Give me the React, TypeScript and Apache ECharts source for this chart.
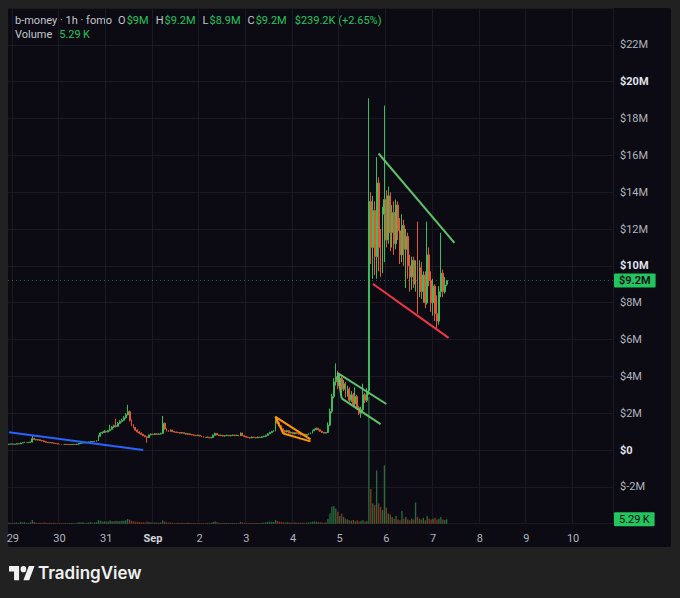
import React, { useEffect, useRef } from "react";
import * as echarts from "echarts";

// ---------- categories: hourly candles starting Aug 28 22:00 ----------
const START_UTC = Date.UTC(2024, 7, 28, 22);
const HOUR_COUNT = 311;
const MONTHS = ["Jan", "Feb", "Mar", "Apr", "May", "Jun", "Jul", "Aug", "Sep", "Oct", "Nov", "Dec"];
const hourLabels: string[] = [];
for (let i = 0; i < HOUR_COUNT; i++) {
  const d = new Date(START_UTC + i * 3600000);
  hourLabels.push(`${d.getUTCMonth() + 1}-${d.getUTCDate()} ${d.getUTCHours()}`);
}

// ---------- candles [open, close, low, high] in $M ----------
const aug28 = [
  [0.31, 0.32, 0.30, 0.33], [0.32, 0.33, 0.31, 0.34],
];
const aug29 = [
  [0.33, 0.31, 0.30, 0.34], [0.31, 0.32, 0.30, 0.33], [0.32, 0.34, 0.31, 0.35], [0.34, 0.33, 0.32, 0.36],
  [0.33, 0.38, 0.33, 0.40], [0.38, 0.40, 0.37, 0.42], [0.40, 0.42, 0.39, 0.45], [0.42, 0.40, 0.39, 0.43],
  [0.40, 0.41, 0.39, 0.43], [0.41, 0.43, 0.40, 0.46], [0.43, 0.62, 0.42, 0.77], [0.62, 0.58, 0.55, 0.66],
  [0.58, 0.55, 0.53, 0.60], [0.55, 0.56, 0.52, 0.59], [0.56, 0.52, 0.50, 0.57], [0.52, 0.50, 0.48, 0.54],
  [0.50, 0.45, 0.44, 0.51], [0.45, 0.42, 0.41, 0.47], [0.42, 0.40, 0.38, 0.43], [0.40, 0.41, 0.38, 0.43],
  [0.41, 0.38, 0.37, 0.42], [0.38, 0.36, 0.35, 0.39], [0.36, 0.35, 0.33, 0.37], [0.35, 0.33, 0.32, 0.36],
];
const aug30 = [
  [0.33, 0.32, 0.31, 0.34], [0.32, 0.31, 0.30, 0.33], [0.31, 0.30, 0.29, 0.32], [0.30, 0.31, 0.29, 0.32],
  [0.31, 0.30, 0.29, 0.32], [0.30, 0.29, 0.28, 0.31], [0.29, 0.30, 0.28, 0.31], [0.30, 0.31, 0.29, 0.32],
  [0.31, 0.30, 0.29, 0.32], [0.30, 0.32, 0.29, 0.34], [0.32, 0.36, 0.31, 0.38], [0.36, 0.38, 0.35, 0.40],
  [0.38, 0.40, 0.37, 0.42], [0.40, 0.39, 0.37, 0.41], [0.39, 0.41, 0.38, 0.43], [0.41, 0.44, 0.40, 0.46],
  [0.44, 0.46, 0.43, 0.48], [0.46, 0.45, 0.43, 0.47], [0.45, 0.47, 0.44, 0.50], [0.47, 0.50, 0.46, 0.53],
  [0.50, 0.75, 0.49, 0.80], [0.75, 0.92, 0.73, 0.96], [0.92, 0.95, 0.88, 1.00], [0.95, 1.02, 0.93, 1.08],
];
const aug31 = [
  [1.02, 0.98, 0.94, 1.05], [0.98, 1.05, 0.96, 1.10], [1.05, 1.12, 1.02, 1.37], [1.12, 1.25, 1.10, 1.30],
  [1.25, 1.32, 1.20, 1.38], [1.32, 1.28, 1.22, 1.70], [1.28, 1.45, 1.26, 1.52], [1.45, 1.55, 1.40, 1.62],
  [1.55, 1.62, 1.50, 1.70], [1.62, 1.75, 1.58, 1.85], [1.75, 1.92, 1.70, 2.00], [1.92, 2.08, 1.88, 2.45],
  [2.08, 1.62, 1.55, 2.15], [1.62, 1.35, 1.30, 1.66], [1.35, 1.22, 1.18, 1.40], [1.22, 1.08, 1.04, 1.25],
  [1.08, 0.98, 0.95, 1.12], [0.98, 0.92, 0.88, 1.02], [0.92, 0.85, 0.82, 0.95], [0.85, 0.78, 0.75, 0.88],
  [0.78, 0.72, 0.70, 0.80], [0.72, 0.68, 0.40, 0.74], [0.68, 0.82, 0.66, 0.85], [0.82, 0.86, 0.80, 0.90],
];
const sep1 = [
  [0.86, 0.84, 0.82, 0.89], [0.84, 0.88, 0.83, 0.92], [0.88, 0.85, 0.83, 0.90], [0.85, 0.87, 0.84, 0.90],
  [0.87, 0.90, 0.85, 0.94], [0.90, 1.45, 0.89, 1.85], [1.45, 1.15, 1.10, 1.50], [1.15, 1.05, 1.00, 1.18],
  [1.05, 1.02, 0.98, 1.08], [1.02, 1.08, 1.00, 1.12], [1.08, 1.00, 0.97, 1.10], [1.00, 0.98, 0.95, 1.03],
  [0.98, 0.96, 0.93, 1.00], [0.96, 0.95, 0.92, 0.99], [0.95, 0.92, 0.90, 0.97], [0.92, 0.94, 0.90, 0.97],
  [0.94, 0.90, 0.88, 0.95], [0.90, 0.86, 0.84, 0.92], [0.86, 0.88, 0.84, 0.91], [0.88, 0.84, 0.82, 0.89],
  [0.84, 0.82, 0.80, 0.86], [0.82, 0.80, 0.78, 0.84], [0.80, 0.78, 0.76, 0.82], [0.78, 0.80, 0.76, 0.83],
];
const sep2 = [
  [0.80, 0.76, 0.74, 0.82], [0.76, 0.72, 0.70, 0.78], [0.72, 0.70, 0.67, 0.74], [0.70, 0.68, 0.65, 0.72],
  [0.68, 0.70, 0.66, 0.73], [0.70, 0.66, 0.64, 0.71], [0.66, 0.68, 0.64, 0.71], [0.68, 0.80, 0.67, 0.84],
  [0.80, 0.90, 0.78, 0.95], [0.90, 0.82, 0.80, 0.92], [0.82, 0.78, 0.76, 0.84], [0.78, 0.80, 0.76, 0.83],
  [0.80, 0.76, 0.74, 0.82], [0.76, 0.78, 0.74, 0.81], [0.78, 0.80, 0.76, 0.83], [0.80, 0.77, 0.75, 0.82],
  [0.77, 0.79, 0.75, 0.82], [0.79, 0.81, 0.77, 0.84], [0.81, 0.78, 0.76, 0.83], [0.78, 0.80, 0.76, 0.83],
  [0.80, 0.77, 0.75, 0.82], [0.77, 0.92, 0.76, 0.96], [0.92, 0.78, 0.76, 0.93], [0.78, 0.74, 0.72, 0.80],
];
const sep3 = [
  [0.74, 0.70, 0.68, 0.76], [0.70, 0.68, 0.66, 0.72], [0.68, 0.66, 0.63, 0.70], [0.66, 0.70, 0.64, 0.73],
  [0.70, 0.68, 0.66, 0.72], [0.68, 0.66, 0.64, 0.70], [0.66, 0.70, 0.65, 0.73], [0.70, 0.68, 0.66, 0.72],
  [0.68, 0.72, 0.67, 0.75], [0.72, 0.74, 0.70, 0.77], [0.74, 0.80, 0.72, 0.83], [0.80, 0.88, 0.78, 0.91],
  [0.88, 0.95, 0.86, 0.99], [0.95, 1.00, 0.93, 1.04], [1.00, 1.04, 0.98, 1.08], [1.04, 1.70, 1.02, 1.85],
  [1.70, 1.45, 1.40, 1.74], [1.45, 1.30, 1.25, 1.50], [1.30, 1.15, 1.10, 1.34], [1.15, 1.05, 1.00, 1.18],
  [1.05, 0.98, 0.94, 1.08], [0.98, 1.05, 0.96, 1.10], [1.05, 0.92, 0.90, 1.07], [0.92, 0.96, 0.90, 1.00],
];
const sep4 = [
  [0.96, 0.88, 0.86, 0.98], [0.88, 0.94, 0.86, 0.97], [0.94, 0.90, 0.87, 0.96], [0.90, 0.86, 0.84, 0.92],
  [0.86, 0.82, 0.80, 0.88], [0.82, 0.86, 0.80, 0.89], [0.86, 0.80, 0.78, 0.88], [0.80, 0.84, 0.78, 0.87],
  [0.84, 0.88, 0.82, 0.91], [0.88, 0.92, 0.86, 0.95], [0.92, 1.05, 0.90, 1.09], [1.05, 1.12, 1.02, 1.16],
  [1.12, 1.18, 1.08, 1.22], [1.18, 1.10, 1.06, 1.20], [1.10, 1.02, 0.98, 1.12], [1.02, 0.96, 0.93, 1.04],
  [0.96, 0.92, 0.90, 0.98], [0.92, 0.95, 0.90, 0.98], [0.95, 1.35, 0.93, 1.50], [1.35, 2.10, 1.30, 2.25],
  [2.10, 2.90, 2.00, 3.05], [2.90, 3.70, 2.80, 3.90], [3.70, 4.00, 3.50, 4.70], [4.00, 3.50, 3.30, 4.30],
];
const sep5 = [
  [3.50, 3.90, 3.40, 4.10], [3.90, 3.30, 3.10, 4.00], [3.30, 3.60, 3.20, 3.80], [3.60, 3.00, 2.85, 3.70],
  [3.00, 3.30, 2.90, 3.50], [3.30, 2.70, 2.60, 3.40], [2.70, 3.00, 2.60, 3.20], [3.00, 2.50, 2.35, 3.10],
  [2.50, 2.90, 2.40, 3.40], [2.90, 2.30, 2.20, 3.00], [2.30, 2.00, 1.90, 2.40], [2.00, 2.20, 1.75, 2.35],
  [2.20, 3.00, 2.10, 3.60], [3.00, 2.70, 2.55, 3.10], [2.70, 3.20, 2.60, 3.35], [3.20, 13.50, 3.00, 19.10],
  [13.50, 11.00, 10.10, 14.00], [11.00, 13.00, 9.30, 13.80], [13.00, 10.50, 9.50, 13.50], [10.50, 14.50, 9.30, 15.90],
  [14.50, 11.00, 9.70, 14.80], [11.00, 10.00, 9.40, 12.00], [10.00, 12.80, 9.60, 13.20], [12.80, 13.60, 10.20, 18.70],
];
const sep6 = [
  [13.60, 11.40, 11.00, 14.10], [11.40, 13.80, 11.20, 14.30], [13.80, 11.80, 10.80, 14.00], [11.80, 12.90, 11.00, 13.30],
  [12.90, 11.20, 10.60, 13.50], [11.20, 13.30, 10.90, 13.60], [13.30, 11.90, 11.40, 13.50], [11.90, 10.60, 10.10, 12.60],
  [10.60, 12.20, 10.20, 12.80], [12.20, 10.90, 10.00, 12.50], [10.90, 11.60, 8.80, 12.00], [11.60, 10.00, 9.30, 11.80],
  [10.00, 9.40, 8.60, 10.60], [9.40, 10.30, 8.70, 10.50], [10.30, 9.00, 8.80, 10.50], [9.00, 10.00, 8.60, 10.30],
  [10.00, 8.70, 7.40, 12.40], [8.70, 9.90, 8.30, 10.30], [9.90, 8.60, 8.20, 10.20], [8.60, 9.50, 8.00, 9.70],
  [9.50, 8.00, 7.70, 9.70], [8.00, 10.60, 7.90, 12.40], [10.60, 9.20, 8.90, 11.00], [9.20, 8.00, 7.50, 9.70],
];
const sep7 = [
  [8.00, 8.90, 7.30, 9.30], [8.90, 7.40, 7.00, 9.00], [7.40, 7.00, 6.60, 8.40], [7.00, 8.60, 6.80, 8.90],
  [8.60, 9.60, 8.30, 11.80], [9.60, 8.60, 8.30, 9.80], [8.60, 8.96, 8.50, 9.40], [9.00, 9.20, 8.90, 9.20],
];

// ---------- volume in K per hour ----------
const volAug28 = [1.2, 0.8];
const volAug29 = [0.9, 1.1, 1.5, 0.8, 2.2, 1.4, 1.8, 0.9, 1.0, 1.6, 4.5, 2.0, 1.2, 0.9, 1.1, 0.8, 1.4, 1.0, 0.9, 1.2, 0.8, 1.0, 0.9, 0.7];
const volAug30 = [0.8, 0.6, 0.7, 0.9, 0.6, 0.8, 0.7, 0.9, 0.6, 1.0, 1.8, 1.4, 1.6, 0.9, 1.2, 1.5, 1.8, 1.2, 1.6, 2.0, 4.2, 3.5, 2.4, 2.8];
const volAug31 = [2.2, 2.6, 3.8, 3.0, 2.8, 3.5, 3.2, 2.9, 3.4, 3.6, 4.0, 5.5, 4.8, 3.6, 2.9, 2.5, 2.2, 1.9, 1.8, 1.6, 1.5, 2.6, 2.0, 1.5];
const volSep1 = [1.2, 1.4, 1.0, 1.1, 1.3, 4.0, 2.5, 1.6, 1.2, 1.4, 1.0, 0.9, 0.8, 1.0, 0.9, 1.1, 0.8, 0.9, 1.0, 0.8, 0.7, 0.9, 0.8, 0.7];
const volSep2 = [0.8, 0.9, 0.7, 0.8, 0.9, 0.7, 0.8, 2.0, 2.5, 1.6, 1.0, 0.8, 0.9, 0.7, 0.8, 0.9, 0.7, 0.8, 0.9, 0.8, 0.7, 2.2, 1.5, 1.0];
const volSep3 = [0.9, 0.8, 0.7, 0.9, 0.8, 0.7, 0.8, 0.9, 1.0, 1.2, 1.6, 2.0, 2.4, 2.2, 2.0, 4.5, 3.2, 2.4, 2.0, 1.8, 1.5, 1.6, 1.4, 1.2];
const volSep4 = [1.2, 1.3, 1.1, 1.0, 1.2, 1.1, 1.0, 1.3, 1.4, 1.6, 2.5, 2.8, 2.4, 2.0, 1.6, 1.4, 1.2, 1.3, 6.0, 12.0, 20.0, 21.0, 18.0, 14.0];
const volSep5 = [9.0, 12.0, 8.0, 6.0, 5.0, 4.0, 3.5, 4.5, 3.0, 4.0, 2.5, 3.5, 4.0, 2.5, 3.0, 150.0, 41.0, 24.0, 22.0, 63.0, 24.0, 20.0, 16.0, 69.0];
const volSep6 = [19.0, 12.0, 11.0, 8.0, 6.0, 9.0, 5.0, 4.0, 15.0, 6.0, 8.0, 5.0, 4.0, 6.0, 5.0, 25.0, 8.0, 6.0, 5.0, 7.0, 4.0, 9.0, 6.0, 5.0];
const volSep7 = [6.0, 7.0, 5.0, 6.0, 8.0, 5.0, 4.5, 5.29];

// ---------- drawn trendlines [hour index, $M] ----------
const blueLine = [[0, 0.97], [69, 0.0]];
const orangeTop = [[141, 0.9], [137, 1.8], [155, 0.58]];
const orangeBottom = [[141, 0.9], [155, 0.47]];
const flagUpper = [[171, 2.8], [169, 4.18], [194, 2.5]];
const flagLower = [[171, 2.8], [191, 1.41]];
const wedgeUpper = [[190, 16.1], [229, 11.25]];
const wedgeLower = [[187, 9.03], [226, 6.09]];

// ---------- tick labels / readouts ----------
const priceTicksBold = [0, 10, 20];
const lastPrice = 9.2;
const lastVolume = 5.29;
const header = { symbol: "b-money · 1h · fomo", o: "$9M", h: "$9.2M", l: "$8.9M", c: "$9.2M", change: "$239.2K (+2.65%)", volume: "5.29\u2009K" };

const UP = "#3dbb5f";
const DOWN = "#e8582e";
const FONT = "Roboto, 'Liberation Sans', sans-serif";

const TV_LOGO = "M14 22H7V11H0V4h14v18zM28 22h-8l7.5-18h8L28 22zM24 8a4 4 0 1 1-8 0a4 4 0 1 1 8 0z";

export default function App() {
  const ref = useRef<HTMLDivElement>(null);
  useEffect(() => {
    document.body.style.margin = "0";
    if (!ref.current) return;
    try {
      echarts.graphic.registerShape("tvlogo", echarts.graphic.extendPath(TV_LOGO, {}));
    } catch (e) {}
    const chart = echarts.init(ref.current, null, { renderer: "svg" });
    const candles = [...aug28, ...aug29, ...aug30, ...aug31, ...sep1, ...sep2, ...sep3, ...sep4, ...sep5, ...sep6, ...sep7];
    const volumes = [...volAug28, ...volAug29, ...volAug30, ...volAug31, ...volSep1, ...volSep2, ...volSep3, ...volSep4, ...volSep5, ...volSep6, ...volSep7];
    const volumeData = volumes.map((v, i) => ({
      value: v,
      itemStyle: { color: candles[i][1] >= candles[i][0] ? "rgba(61,187,95,0.55)" : "rgba(232,88,46,0.55)" },
    }));
    const isMidnight = (_i: number, v: string) => v.endsWith(" 0");
    const trend = (data: number[][], color: string) => ({
      type: "line",
      data,
      showSymbol: false,
      symbol: "none",
      silent: true,
      z: 5,
      lineStyle: { color, width: 2 },
    });
    const richHeader = {
      g: { fill: "#c3c6ce", color: "#c3c6ce", fontSize: 11, fontFamily: FONT },
      gs: { fill: "#c3c6ce", color: "#c3c6ce", fontSize: 11, fontFamily: FONT, padding: [0, 6, 0, 0] },
      v: { fill: "#22c55e", color: "#22c55e", fontSize: 11, fontFamily: FONT, padding: [0, 7, 0, 1] },
      vl: { fill: "#22c55e", color: "#22c55e", fontSize: 11, fontFamily: FONT, padding: [0, 0, 0, 1] },
    };
    const badge = {
      show: true,
      position: "end",
      distance: 1,
      backgroundColor: "#22c55e",
      color: "#0b0a12",
      fontSize: 11,
      padding: [2, 5, 1, 5],
      borderRadius: 1,
    };

    chart.setOption({
      animation: false,
      backgroundColor: "transparent",
      textStyle: { fontFamily: FONT },
      grid: { left: 8, right: 67, top: 8, bottom: 74.3 },
      xAxis: {
        type: "category",
        data: hourLabels,
        boundaryGap: true,
        axisLine: { show: false },
        axisTick: { show: false },
        axisLabel: {
          interval: isMidnight,
          color: "#b2b5be",
          fontSize: 11,
          margin: 9,
          formatter: (v: string) => {
            const [md] = v.split(" ");
            const [m, d] = md.split("-").map(Number);
            return d === 1 ? `{b|${MONTHS[m - 1]}}` : String(d);
          },
          rich: { b: { fontWeight: "bold", color: "#d1d4dc", fontSize: 11 } },
        },
        splitLine: { show: true, interval: isMidnight, lineStyle: { color: "#1b1a23", width: 1 } },
      },
      yAxis: [
        {
          type: "value",
          position: "right",
          min: -4,
          max: 24,
          interval: 2,
          axisLine: { show: false },
          axisTick: { show: false },
          splitLine: { lineStyle: { color: "#1b1a23", width: 1 } },
          axisLabel: {
            color: "#b2b5be",
            fontSize: 11,
            margin: 7,
            formatter: (v: number) => {
              if (v <= -4 || v >= 24) return "";
              const s = v === 0 ? "$0" : `$${v}M`;
              return priceTicksBold.includes(v) ? `{b|${s}}` : s;
            },
            rich: { b: { fontWeight: "bold", color: "#e0e3eb", fontSize: 11 } },
          },
        },
        { type: "value", min: 0, max: 610, show: false, splitLine: { show: false } },
      ],
      series: [
        {
          type: "bar",
          name: "Volume",
          xAxisIndex: 0,
          yAxisIndex: 1,
          data: volumeData,
          barWidth: "70%",
          silent: true,
          z: 1,
          markLine: {
            silent: true,
            symbol: "none",
            lineStyle: { color: "rgba(0,0,0,0)", width: 1 },
            label: { ...badge, formatter: header.volume },
            data: [{ yAxis: lastVolume }],
          },
        },
        {
          type: "candlestick",
          name: "b-money",
          data: candles,
          barWidth: "70%",
          z: 3,
          itemStyle: { color: UP, color0: DOWN, borderColor: UP, borderColor0: DOWN, borderWidth: 1 },
          markLine: {
            silent: true,
            symbol: "none",
            lineStyle: { color: "rgba(61,187,95,0.55)", type: [1, 3], width: 1 },
            label: { ...badge, formatter: "$9.2M", fontWeight: 600 },
            data: [{ yAxis: lastPrice }],
          },
        },
        trend(blueLine, "#2962ff"),
        trend(orangeTop, "#ff9800"),
        trend(orangeBottom, "#ff9800"),
        trend(flagUpper, "#5fc26a"),
        trend(flagLower, "#5fc26a"),
        trend(wedgeUpper, "#5fc26a"),
        trend(wedgeLower, "#f23645"),
      ],
      graphic: [
        {
          type: "text",
          left: 15,
          top: 15,
          silent: true,
          style: {
            text: `{gs|${header.symbol}}{g|O}{v|${header.o}}{g|H}{v|${header.h}}{g|L}{v|${header.l}}{g|C}{v|${header.c}}{vl|${header.change}}`,
            fontSize: 11,
            fontFamily: FONT,
            fill: "#c3c6ce",
            rich: richHeader,
          },
        },
        {
          type: "text",
          left: 15,
          top: 29,
          silent: true,
          style: {
            text: `{gs|Volume}{vl|${header.volume}}`,
            fontSize: 11,
            fontFamily: FONT,
            fill: "#c3c6ce",
            rich: richHeader,
          },
        },
        {
          type: "tvlogo",
          x: 9,
          y: 563,
          scaleX: 0.72,
          scaleY: 0.78,
          silent: true,
          style: { fill: "#f0f0f0" },
        },
        {
          type: "text",
          left: 38,
          top: 564,
          silent: true,
          style: { text: "TradingView", fontSize: 17, fontWeight: 600, fontFamily: "Inter, Roboto, sans-serif", fill: "#f0f0f0" },
        },
      ],
    });
    return () => chart.dispose();
  }, []);

  return (
    <div style={{ position: "absolute", left: 0, top: 0, width: 680, height: 598, background: "#212121" }}>
      <div style={{ position: "absolute", left: 8, top: 8, width: 663, height: 539, background: "#0c0b13", borderRadius: 2 }} />
      <div ref={ref} style={{ position: "absolute", left: 0, top: 0, width: 680, height: 598 }} />
    </div>
  );
}
